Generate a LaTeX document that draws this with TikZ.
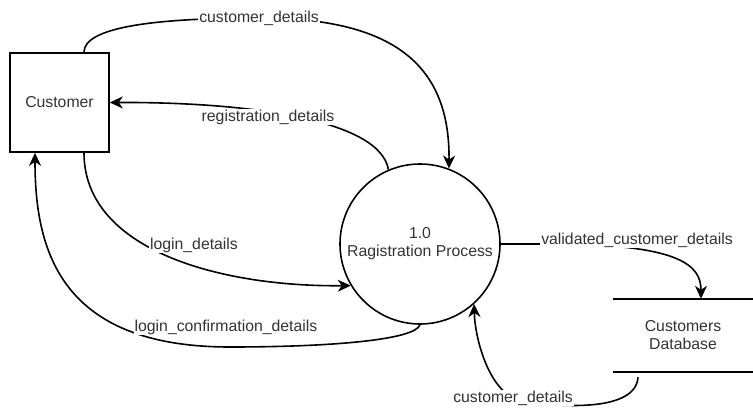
\documentclass[tikz,border=0pt]{standalone}
\usepackage{fontspec}
\setmainfont{Liberation Sans}
\usetikzlibrary{arrows.meta}
\definecolor{txt}{HTML}{333333}
\tikzset{
  flow/.style={line width=1.6pt, -{Stealth[length=13pt,width=12pt,inset=4pt]}},
  plain/.style={line width=1.6pt},
  lbl/.style={fill=white, inner sep=1pt, text=txt, font=\fontsize{15.8}{17}\selectfont},
  entity/.style={draw, line width=1.6pt, minimum width=99pt, minimum height=99pt, inner sep=0pt, text=txt, font=\fontsize{15.8}{17}\selectfont},
  proccircle/.style={draw, circle, line width=1.6pt, minimum size=160pt, inner sep=0pt, align=center, text=txt, font=\fontsize{15.8}{18}\selectfont},
  store/.style={minimum width=140pt, minimum height=73pt, inner sep=0pt, align=center, text=txt, font=\fontsize{15.8}{18}\selectfont}
}
\begin{document}
\begin{tikzpicture}[x=1pt,y=-1pt]
\useasboundingbox (0,0) rectangle (753,410);
\node[entity] (cust) at (59.5,102.5) {Customer};
\node[proccircle] (proc) at (420,244) {1.0\\Ragistration Process};
\node[store] (db) at (683,335.5) {Customers\\Database};
\draw[plain] (db.north west) -- (db.north east);
\draw[plain] (db.south west) -- (db.south east);

% customer_details (top)
\draw[flow] ([xshift=24.5pt]cust.north) .. controls (84,28) and (150,18) .. (260,18)
  .. controls (400,18) and (450,70) .. (proc.69);
% registration_details
\draw[flow] (proc.113) .. controls (380,120) and (250,102) .. (cust.east);
% login_details
\draw[flow] ([xshift=24.5pt]cust.south) .. controls (84,250) and (220,287) .. (proc.211);
% login_confirmation_details
\draw[flow] (proc.south) .. controls (415,340) and (330,347) .. (230,347)
  .. controls (60,347) and (35,250) .. ([xshift=-24.5pt]cust.south);
% validated_customer_details
\draw[flow] (proc.east) -- (550,244) .. controls (680,244) and (701,265) .. ([xshift=18pt]db.north);
% customer_details (bottom)
\draw[flow] ([xshift=-45pt,yshift=-5pt]db.south) .. controls (636,412) and (560,408) .. (520,400)
  .. controls (490,394) and (475,340) .. (proc.312);

% labels
\node[lbl] (l1) at (259,18) {customer\_details};
\node[lbl] (l2) at (268,117) {registration\_details};
\node[lbl] (l3) at (194,245) {login\_details};
\node[lbl] (l4) at (226,327) {login\_confirmation\_details};
\node[lbl] (l5) at (637,240) {validated\_customer\_details};
\node[lbl] (l6) at (513,398) {customer\_details};
\end{tikzpicture}
\end{document}
